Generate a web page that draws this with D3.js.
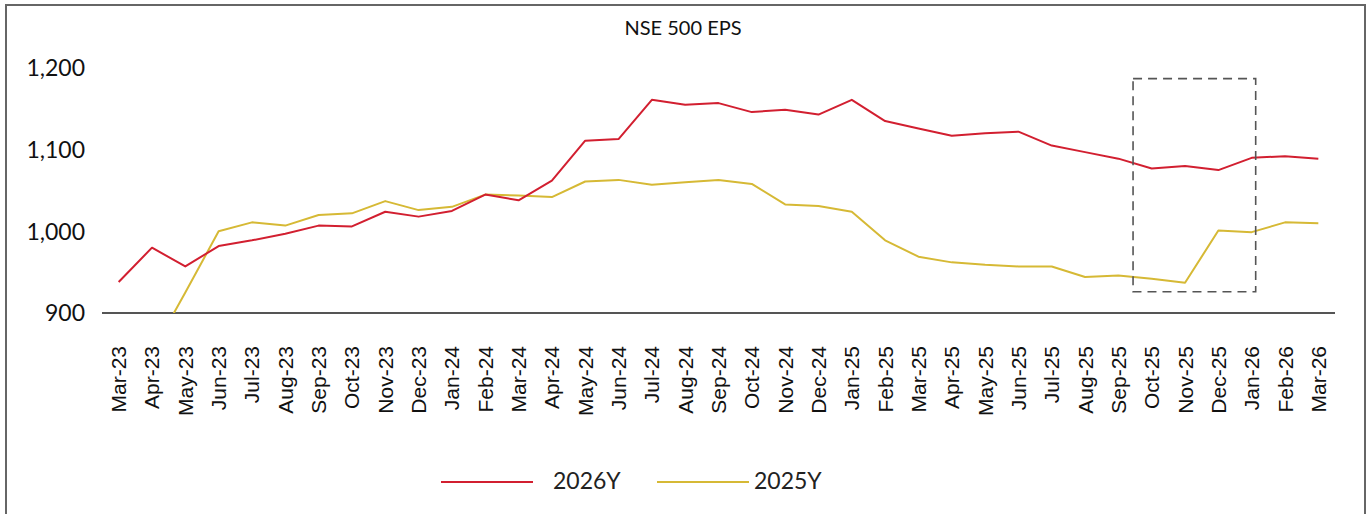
<!DOCTYPE html>
<html>
<head>
<meta charset="utf-8">
<script src="https://cdn.jsdelivr.net/npm/d3@7"></script>
<style>
  html, body { margin: 0; padding: 0; background: #fff; }
  svg { display: block; }
</style>
</head>
<body>
<svg id="chart" width="1370" height="514"></svg>
<script>
const title = "NSE 500 EPS";
const categories = ["Mar-23","Apr-23","May-23","Jun-23","Jul-23","Aug-23","Sep-23","Oct-23","Nov-23","Dec-23",
  "Jan-24","Feb-24","Mar-24","Apr-24","May-24","Jun-24","Jul-24","Aug-24","Sep-24","Oct-24","Nov-24","Dec-24",
  "Jan-25","Feb-25","Mar-25","Apr-25","May-25","Jun-25","Jul-25","Aug-25","Sep-25","Oct-25","Nov-25","Dec-25",
  "Jan-26","Feb-26","Mar-26"];
const eps2026 = [938, 980, 957, 982, 989, 997, 1007, 1006, 1024, 1018,
  1025, 1045, 1038, 1062, 1111, 1113, 1161, 1155, 1157, 1146, 1149, 1143,
  1161, 1135, 1126, 1117, 1120, 1122, 1105, 1097, 1089, 1077, 1080, 1075,
  1090, 1092, 1089];
const eps2025 = [null, 852, 925, 1000, 1011, 1007, 1020, 1022, 1037, 1026,
  1030, 1045, 1044, 1042, 1061, 1063, 1057, 1060, 1063, 1058, 1033, 1031,
  1024, 989, 969, 962, 959, 957, 957, 944, 946, 942, 937, 1001,
  999, 1011, 1010];
const yTicks = [900, 1000, 1100, 1200];
const seriesNames = ["2026Y", "2025Y"];
const highlight = { from: "Oct-25", to: "Jan-26", low: 926, high: 1187 };

const colors = { "2026Y": "#d21f30", "2025Y": "#d6b935" };
const svg = d3.select("#chart");

// outer frame
svg.append("rect").attr("x", 6).attr("y", 5).attr("width", 1359).attr("height", 520)
  .attr("fill", "none").attr("stroke", "#666").attr("stroke-width", 2);

const x = d3.scaleBand().domain(categories).range([102, 1335]).padding(0);
const y = d3.scaleLinear().domain([900, 1200]).range([313, 68]);
const cx = c => x(c) + x.bandwidth() / 2;

// title
svg.append("text").attr("x", 683).attr("y", 35).attr("text-anchor", "middle")
  .attr("font-family", "Lato, 'Noto Sans', sans-serif").attr("font-size", 20)
  .attr("fill", "#111").text(title);

// y tick labels
svg.append("g").selectAll("text").data(yTicks).join("text")
  .attr("x", 85).attr("y", d => y(d)).attr("dy", "0.36em")
  .attr("text-anchor", "end")
  .attr("font-family", "Lato, 'Noto Sans', sans-serif").attr("font-size", 23)
  .attr("fill", "#111").text(d => d3.format(",")(d));

// x axis line
svg.append("line").attr("x1", 102).attr("x2", 1335).attr("y1", y(900)).attr("y2", y(900))
  .attr("stroke", "#555").attr("stroke-width", 2);

// x tick labels
svg.append("g").selectAll("text").data(categories).join("text")
  .attr("transform", d => `translate(${cx(d) + 7.5},346) rotate(-90)`)
  .attr("text-anchor", "end")
  .attr("font-family", "'Liberation Sans', Arial, sans-serif").attr("font-size", 21)
  .attr("fill", "#111").text(d => d);

// clip for plot area
svg.append("defs").append("clipPath").attr("id", "plotclip")
  .append("rect").attr("x", 102).attr("y", 40).attr("width", 1233).attr("height", y(900) - 40);

const line = d3.line().defined(d => d.v != null).x(d => cx(d.c)).y(d => y(d.v));
const series = [
  { name: "2025Y", values: eps2025 },
  { name: "2026Y", values: eps2026 }
];
svg.append("g").attr("clip-path", "url(#plotclip)").selectAll("path").data(series).join("path")
  .attr("d", s => line(categories.map((c, i) => ({ c, v: s.values[i] }))))
  .attr("fill", "none").attr("stroke", s => colors[s.name]).attr("stroke-width", 2)
  .attr("stroke-linejoin", "round");

// dashed highlight box
const bx0 = x(highlight.from) - 2;
const bx1 = cx(highlight.to) + 4;
svg.append("rect").attr("x", bx0).attr("y", y(highlight.high))
  .attr("width", bx1 - bx0).attr("height", y(highlight.low) - y(highlight.high))
  .attr("fill", "none").attr("stroke", "#555").attr("stroke-width", 1.6)
  .attr("stroke-dasharray", "9,6");

// legend
const legendItems = [
  { name: seriesNames[0], x1: 441, x2: 533, tx: 553 },
  { name: seriesNames[1], x1: 657, x2: 749, tx: 754 }
];
const lg = svg.append("g");
lg.selectAll("line").data(legendItems).join("line")
  .attr("x1", d => d.x1).attr("x2", d => d.x2).attr("y1", 482).attr("y2", 482)
  .attr("stroke", d => colors[d.name]).attr("stroke-width", 2);
lg.selectAll("text").data(legendItems).join("text")
  .attr("x", d => d.tx).attr("y", 489)
  .attr("font-family", "Lato, 'Noto Sans', sans-serif").attr("font-size", 23)
  .attr("fill", "#222").text(d => d.name);
</script>
</body>
</html>
